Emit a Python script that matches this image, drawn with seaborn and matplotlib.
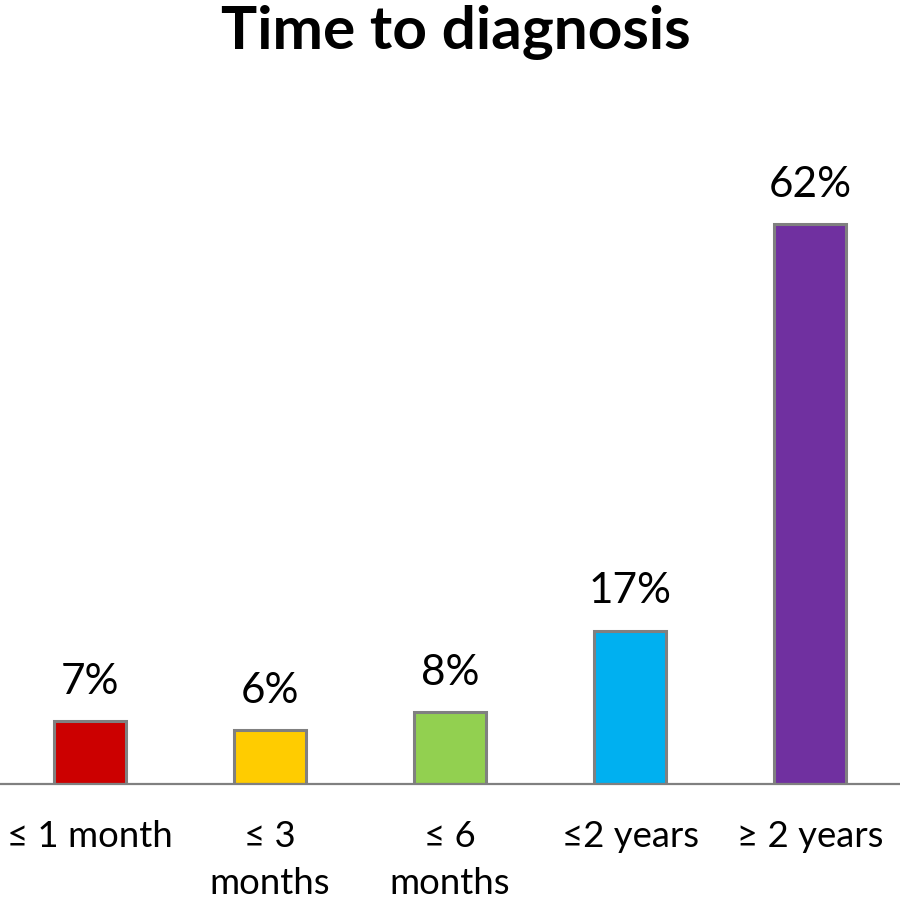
import matplotlib
matplotlib.use("Agg")
import matplotlib.pyplot as plt
import seaborn as sns
import pandas as pd

categories = ["≤ 1 month", "≤ 3\nmonths", "≤ 6\nmonths", "≤2 years", "≥ 2 years"]
values = [7, 6, 8, 17, 62]
value_labels = ["7%", "6%", "8%", "17%", "62%"]
colors = ["#CC0000", "#FFCC00", "#92D050", "#00B0F0", "#7030A0"]
title = "Time to diagnosis"

sns.set_theme(style="white")
plt.rcParams['font.family'] = ['Lato', 'DejaVu Sans']

df = pd.DataFrame({"cat": categories, "val": values})

fig = plt.figure(figsize=(9, 9), dpi=100)
ax = fig.add_axes([0, 116/900, 1, 632/900])
sns.barplot(data=df, x="cat", y="val", hue="cat", palette=colors, legend=False,
            width=0.4, edgecolor="#808080", linewidth=2.2, saturation=1, ax=ax)
ax.set_ylim(0, 70)
ax.set_xlim(-0.5, 4.5)
for s in ["top", "left", "right"]:
    ax.spines[s].set_visible(False)
ax.spines["bottom"].set_color("#808080")
ax.spines["bottom"].set_linewidth(1.6)
ax.set_yticks([])
ax.set_xlabel("")
ax.set_ylabel("")
ax.tick_params(axis="x", length=0, pad=26, labelsize=26.3, labelcolor="black")
for lab in ax.get_xticklabels():
    lab.set_linespacing(1.5)

for i, (v, t) in enumerate(zip(values, value_labels)):
    ax.annotate(t, (i, v), xytext=(0, 19.5), textcoords="offset points",
                ha="center", va="baseline", fontsize=30.5, color="black")

fig.text(0.507, 1 - 49/900, title, ha="center", va="baseline",
         fontsize=43.5, fontweight="bold", color="black")

fig.savefig("out.png", dpi=100)
